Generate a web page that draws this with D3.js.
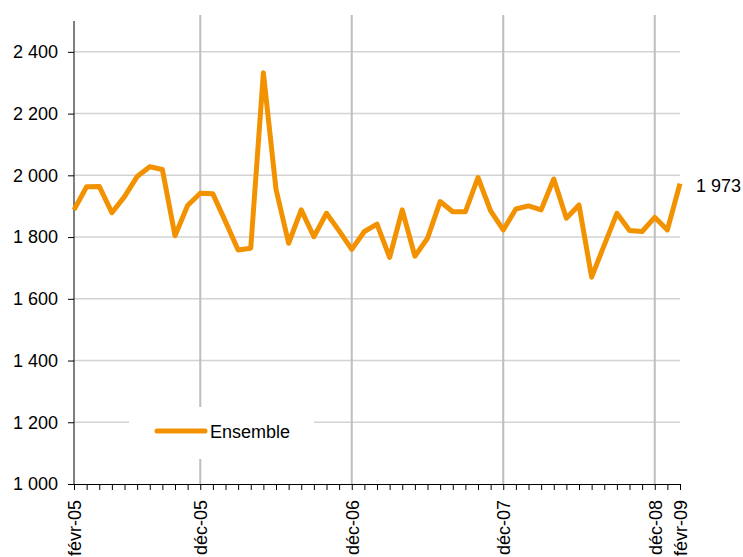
<!DOCTYPE html>
<html>
<head>
<meta charset="utf-8">
<script src="https://cdn.jsdelivr.net/npm/d3@7"></script>
<style>
  body { margin: 0; background: #fff; }
  svg text { font-family: "Liberation Sans", Arial, sans-serif; font-size: 18px; fill: #000; }
</style>
</head>
<body>
<svg width="743" height="557"></svg>
<script>
// monthly values, févr-05 .. févr-09
var months = ["févr-05","mars-05","avr-05","mai-05","juin-05","juil-05","août-05","sept-05","oct-05","nov-05","déc-05",
  "janv-06","févr-06","mars-06","avr-06","mai-06","juin-06","juil-06","août-06","sept-06","oct-06","nov-06","déc-06",
  "janv-07","févr-07","mars-07","avr-07","mai-07","juin-07","juil-07","août-07","sept-07","oct-07","nov-07","déc-07",
  "janv-08","févr-08","mars-08","avr-08","mai-08","juin-08","juil-08","août-08","sept-08","oct-08","nov-08","déc-08",
  "janv-09","févr-09"];
var ensemble = [1888, 1963, 1964, 1879, 1931, 1996, 2028, 2019, 1804, 1902, 1942,
  1940, 1850, 1758, 1764, 2332, 1955, 1780, 1888, 1801, 1877, 1820, 1760,
  1818, 1842, 1734, 1888, 1738, 1796, 1915, 1882, 1882, 1993, 1885, 1823,
  1891, 1901, 1888, 1988, 1861, 1904, 1670, 1774, 1877, 1821, 1818, 1864,
  1823, 1973];
var yTicks = [1000, 1200, 1400, 1600, 1800, 2000, 2200, 2400];
var xLabels = ["févr-05", "déc-05", "déc-06", "déc-07", "déc-08", "févr-09"];
var gridMonths = ["déc-05", "déc-06", "déc-07", "déc-08"];
var seriesName = "Ensemble";

var svg = d3.select("svg"),
  margin = {top: 21, left: 74, right: 63, bottom: 73},
  width = +svg.attr("width") - margin.left - margin.right,
  height = +svg.attr("height") - margin.top - margin.bottom;

var x = d3.scalePoint().domain(months).range([margin.left, margin.left + width]),
  y = d3.scaleLinear().domain([1000, 2500]).range([margin.top + height, margin.top]);

var fmt = function (v) { return d3.format(",")(v).replace(/,/g, " "); };
var orange = "#f39200";

// horizontal grid
svg.append("g")
  .selectAll("line")
  .data(yTicks.slice(1))
  .enter().append("line")
  .attr("x1", margin.left).attr("x2", margin.left + width)
  .attr("y1", function (d) { return y(d); })
  .attr("y2", function (d) { return y(d); })
  .attr("stroke", "#d3d3d3")
  .attr("stroke-width", 1.5);

// vertical grid at december
svg.append("g")
  .selectAll("line")
  .data(gridMonths)
  .enter().append("line")
  .attr("x1", function (d) { return x(d); })
  .attr("x2", function (d) { return x(d); })
  .attr("y1", margin.top - 6).attr("y2", margin.top + height)
  .attr("stroke", "#bebebe")
  .attr("stroke-width", 2);

// legend box hides the grid behind it
svg.append("rect")
  .attr("x", 129).attr("y", 407)
  .attr("width", 185).attr("height", 52)
  .attr("fill", "#fff");

svg.append("line")
  .attr("x1", 157).attr("x2", 205)
  .attr("y1", 431).attr("y2", 431)
  .attr("stroke", orange)
  .attr("stroke-width", 5)
  .attr("stroke-linecap", "round");

svg.append("text")
  .attr("x", 210).attr("y", 432)
  .attr("dy", "0.35em")
  .text(seriesName);

// y axis
var yAxis = svg.append("g")
  .attr("transform", "translate(" + margin.left + ",0)")
  .call(d3.axisLeft(y).tickValues(yTicks).tickSize(6).tickPadding(10).tickFormat(fmt));
yAxis.select(".domain").attr("d", "M0," + margin.top + "V" + (margin.top + height));
yAxis.selectAll("text").style("font-family", null).style("font-size", null).attr("font-size", null).attr("font-family", null);

// x axis
var xAxis = svg.append("g")
  .attr("transform", "translate(0," + (margin.top + height) + ")")
  .call(d3.axisBottom(x).tickSize(6).tickSizeOuter(0).tickFormat(function (d) {
    return xLabels.indexOf(d) >= 0 ? d : "";
  }));
xAxis.selectAll("text")
  .attr("font-size", null).attr("font-family", null)
  .attr("transform", "rotate(-90)")
  .attr("text-anchor", "end")
  .attr("x", -16).attr("y", 0)
  .attr("dy", "0.35em");
svg.selectAll(".tick line").attr("stroke", "#000");
svg.selectAll(".domain").attr("stroke", "#000");
svg.selectAll(".tick text").attr("fill", "#000");

// series line
var line = d3.line()
  .x(function (d, i) { return x(months[i]); })
  .y(function (d) { return y(d); });

svg.append("path")
  .datum(ensemble)
  .attr("fill", "none")
  .attr("stroke", orange)
  .attr("stroke-width", 5)
  .attr("stroke-linejoin", "round")
  .attr("d", line);

// end value label
var last = ensemble[ensemble.length - 1];
svg.append("text")
  .attr("x", x(months[months.length - 1]) + 16)
  .attr("y", y(last) + 2)
  .attr("dy", "0.35em")
  .text(fmt(last));
</script>
</body>
</html>
